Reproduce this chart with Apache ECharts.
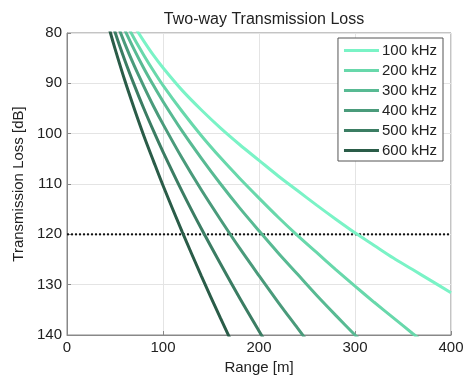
<!DOCTYPE html>
<html>
<head>
<meta charset="utf-8">
<script src="https://cdn.jsdelivr.net/npm/echarts@6/dist/echarts.min.js"></script>
<style>
  html, body { margin: 0; padding: 0; background: #fff; }
  #chart { width: 467px; height: 377px; }
</style>
</head>
<body>
<div id="chart"></div>
<script>
// values: range [m] and two-way loss [dB] per frequency
var seriesNames = ['100 kHz', '200 kHz', '300 kHz', '400 kHz', '500 kHz', '600 kHz'];
var colors = ['#7af3c6', '#68d8ab', '#58ba93', '#4a9b7b', '#3b7d63', '#2a5c48'];

var range100 = [60, 70, 80, 90, 100, 120, 140, 160, 180, 200, 220, 240, 260, 280, 300, 320, 340, 360, 380, 400];
var loss100  = [75.2, 78.6, 81.6, 84.4, 86.9, 91.4, 95.3, 98.9, 102.2, 105.3, 108.4, 111.3, 114.2, 117.0, 119.7, 122.2, 124.7, 127.0, 129.3, 131.6];

var range200 = [50, 60, 70, 80, 90, 100, 120, 140, 160, 180, 200, 220, 240, 260, 280, 300, 320, 340, 360, 380];
var loss200  = [73.2, 77.4, 81.1, 84.4, 87.5, 90.4, 95.6, 100.4, 104.8, 108.9, 112.8, 116.6, 120.2, 123.6, 127.0, 130.3, 133.5, 136.6, 139.7, 142.7];

var range300 = [45, 50, 60, 70, 80, 90, 100, 120, 140, 160, 180, 200, 220, 240, 260, 280, 300, 320];
var loss300  = [72.3, 74.8, 79.3, 83.3, 87.0, 90.4, 93.6, 99.5, 104.9, 110.0, 114.8, 119.3, 123.7, 127.9, 132.1, 136.1, 140.0, 143.8];

var range400 = [40, 50, 60, 70, 80, 90, 100, 120, 140, 160, 180, 200, 220, 240, 260];
var loss400  = [71.3, 77.0, 82.0, 86.5, 90.6, 94.5, 98.1, 104.9, 111.2, 117.1, 122.8, 128.2, 133.5, 138.6, 143.7];

var range500 = [40, 50, 60, 70, 80, 90, 100, 120, 140, 160, 180, 200, 220];
var loss500  = [73.5, 79.8, 85.3, 90.3, 95.0, 99.4, 103.6, 111.5, 118.9, 125.9, 132.7, 139.2, 145.6];

var range600 = [40, 45, 50, 60, 70, 80, 90, 100, 120, 140, 160, 180];
var loss600  = [76.2, 79.8, 83.1, 89.3, 95.0, 100.4, 105.4, 110.3, 119.5, 128.3, 136.7, 144.8];

var thresholdLoss = 120;
var xTicks = [0, 100, 200, 300, 400];
var yTicks = [80, 90, 100, 110, 120, 130, 140];

var ranges = [range100, range200, range300, range400, range500, range600];
var losses = [loss100, loss200, loss300, loss400, loss500, loss600];

function pairs(xs, ys) {
    var out = [];
    for (var i = 0; i < xs.length; i++) out.push([xs[i], ys[i]]);
    return out;
}

var series = [];
for (var k = 0; k < seriesNames.length; k++) {
    series.push({
        name: seriesNames[k],
        type: 'line',
        data: pairs(ranges[k], losses[k]),
        smooth: 0.3,
        showSymbol: false,
        clip: true,
        lineStyle: { color: colors[k], width: 3 },
        itemStyle: { color: colors[k] },
        z: 3
    });
}
series.push({
    name: 'threshold',
    type: 'line',
    data: [[xTicks[0], thresholdLoss], [xTicks[xTicks.length - 1], thresholdLoss]],
    showSymbol: false,
    lineStyle: { color: '#111', width: 2, type: [2, 2] },
    z: 2
});

var font = 'Liberation Sans, Arial, sans-serif';
var chart = echarts.init(document.getElementById('chart'));
chart.setOption({
    animation: false,
    backgroundColor: '#fff',
    color: colors,
    title: {
        text: 'Two-way Transmission Loss',
        left: 259,
        top: 7,
        textAlign: 'center',
        textStyle: { fontFamily: font, fontSize: 16, fontWeight: 'normal', color: '#222' }
    },
    legend: {
        data: seriesNames,
        orient: 'vertical',
        right: 24,
        top: 38,
        itemWidth: 35,
        itemHeight: 3,
        itemGap: 5,
        padding: [5, 6, 3, 6],
        borderColor: '#555',
        borderWidth: 1,
        backgroundColor: '#fff',
        icon: 'rect',
        textStyle: { fontFamily: font, fontSize: 15, color: '#222', padding: [0, 0, 0, -2] }
    },
    grid: {
        left: 67, right: 16, top: 33, bottom: 42,
        containLabel: false,
        outerBoundsMode: 'none',
        show: true, borderColor: '#888', borderWidth: 1
    },
    xAxis: {
        type: 'value',
        min: xTicks[0], max: xTicks[xTicks.length - 1], interval: 100,
        name: 'Range [m]',
        nameLocation: 'middle',
        nameGap: 23,
        nameTextStyle: { fontFamily: font, fontSize: 15, color: '#222' },
        axisLine: { show: true, lineStyle: { color: '#888' } },
        axisTick: { inside: true, length: 4, lineStyle: { color: '#888' } },
        axisLabel: { fontFamily: font, fontSize: 15, color: '#222', margin: 5 },
        splitLine: { show: true, lineStyle: { color: '#e4e4e4' } }
    },
    yAxis: {
        type: 'value',
        inverse: true,
        min: yTicks[0], max: yTicks[yTicks.length - 1], interval: 10,
        name: 'Transmission Loss [dB]',
        nameLocation: 'middle',
        nameGap: 32,
        nameTextStyle: { fontFamily: font, fontSize: 15, color: '#222' },
        axisLine: { show: true, lineStyle: { color: '#888' } },
        axisTick: { inside: true, length: 4, lineStyle: { color: '#888' } },
        axisLabel: { fontFamily: font, fontSize: 15, color: '#222', margin: 5 },
        splitLine: { show: true, lineStyle: { color: '#e4e4e4' } }
    },
    series: series
});
</script>
</body>
</html>
